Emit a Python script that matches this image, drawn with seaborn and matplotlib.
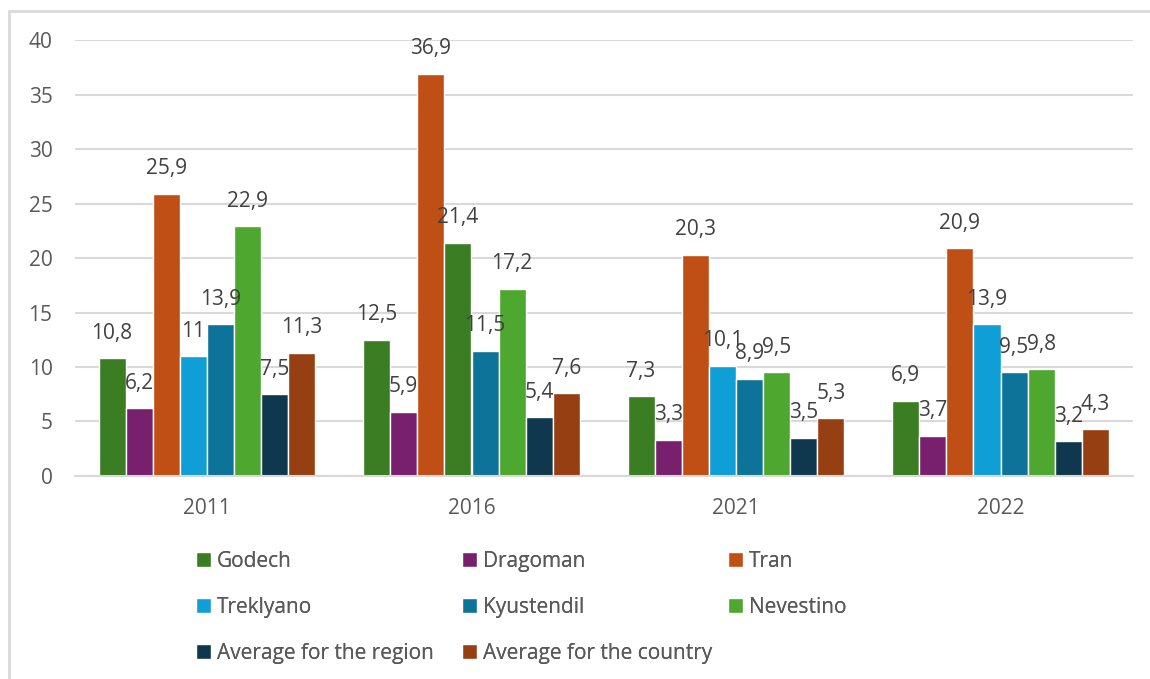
import pandas as pd
import seaborn as sns
import matplotlib.pyplot as plt
from matplotlib.lines import Line2D

# Data
years = ["2011", "2016", "2021", "2022"]
series = ["Godech", "Dragoman", "Tran", "Treklyano", "Kyustendil", "Nevestino",
          "Average for the region", "Average for the country"]
godech = [10.8, 12.5, 7.3, 6.9]
dragoman = [6.2, 5.9, 3.3, 3.7]
tran = [25.9, 36.9, 20.3, 20.9]
treklyano = [11.0, 21.4, 10.1, 13.9]
kyustendil = [13.9, 11.5, 8.9, 9.5]
nevestino = [22.9, 17.2, 9.5, 9.8]
avg_region = [7.5, 5.4, 3.5, 3.2]
avg_country = [11.3, 7.6, 5.3, 4.3]

colors = ["#3B7D23", "#78206E", "#C04F15", "#0F9ED5", "#0E7399", "#4EA72E",
          "#0F384F", "#963F12"]

values = [godech, dragoman, tran, treklyano, kyustendil, nevestino, avg_region, avg_country]
rows = []
for name, vals in zip(series, values):
    for y, v in zip(years, vals):
        rows.append({"year": y, "series": name, "value": v})
df = pd.DataFrame(rows)

sns.set_style("white")
plt.rcParams["font.family"] = ["Open Sans", "DejaVu Sans"]
FS = 15

fig = plt.figure(figsize=(11.5, 6.79), dpi=100)
ax = fig.add_axes([0.065, 0.299, 0.92, 0.642])

sns.barplot(data=df, x="year", y="value", hue="series", hue_order=series,
            palette=colors, order=years, width=0.82, saturation=1,
            edgecolor="white", linewidth=1, ax=ax, legend=True)

# in 2016 the Treklyano bar is drawn in the Godech green in the original
ax.containers[3][1].set_facecolor(colors[0])

for cont in ax.containers:
    labels = [f"{b.get_height():g}".replace(".", ",") for b in cont]
    ax.bar_label(cont, labels=labels, padding=10.5, fontsize=FS, color="#404040")

ax.set_ylim(0, 40)
ax.set_yticks(range(0, 41, 5))
ax.grid(axis="y", color="#D9D9D9", linewidth=1.5)
ax.set_axisbelow(True)
for s in ["top", "right", "left"]:
    ax.spines[s].set_visible(False)
ax.spines["bottom"].set_color("#D9D9D9")
ax.spines["bottom"].set_linewidth(1.5)
ax.tick_params(axis="both", length=0, labelsize=FS, labelcolor="#595959")
ax.tick_params(axis="y", pad=16)
ax.tick_params(axis="x", pad=16)
ax.set_xlabel("")
ax.set_ylabel("")

handles, labs = ax.get_legend_handles_labels()
ax.get_legend().remove()

# three legend columns placed like the Excel legend
columns = [[0, 3, 6], [1, 4, 7], [2, 5]]
col_x = [196, 462, 728]
for idx, x in zip(columns, col_x):
    leg = fig.legend([handles[i] for i in idx], [labs[i] for i in idx], ncol=1,
                     loc="upper left", bbox_to_anchor=(x / 1150, 0.189), frameon=False,
                     fontsize=FS, labelcolor="#595959", handlelength=0.72, handleheight=0.72,
                     handletextpad=0.3, labelspacing=1.2, borderpad=0, borderaxespad=0)
    fig.add_artist(leg)

# chart frame (left and top edges visible in the reference)
fig.add_artist(Line2D([0.008, 0.008], [0, 0.984], color="#D9D9D9", lw=2, transform=fig.transFigure))
fig.add_artist(Line2D([0.008, 1], [0.984, 0.984], color="#D9D9D9", lw=2, transform=fig.transFigure))

fig.savefig("out.png", dpi=100)
